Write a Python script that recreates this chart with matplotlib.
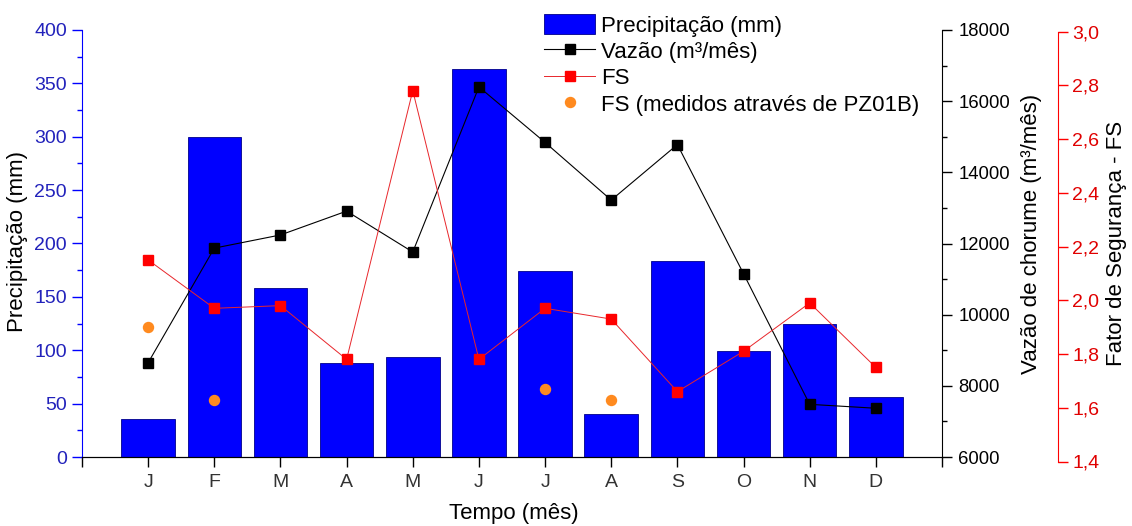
import matplotlib
matplotlib.use('Agg')
import matplotlib.pyplot as plt
import numpy as np

plt.rcParams['font.family'] = ['Liberation Sans', 'DejaVu Sans']

# dados mensais
meses = ['J', 'F', 'M', 'A', 'M', 'J', 'J', 'A', 'S', 'O', 'N', 'D']
precipitacao = [36, 300, 158, 88, 94, 363, 174, 40, 184, 99, 125, 56]
vazao = [8650, 11870, 12240, 12910, 11760, 16400, 14840, 13220, 14780, 11150, 7480, 7370]
fs = [2.15, 1.97, 1.98, 1.78, 2.78, 1.78, 1.97, 1.93, 1.66, 1.81, 1.99, 1.75]
# FS medidos no piezometro PZ01B (J, F, J, A)
fs_pz_mes = [1, 2, 7, 8]
fs_pz = [1.90, 1.63, 1.67, 1.63]

x = np.arange(1, 13)
W, H = 1132, 526

fig = plt.figure(figsize=(W / 100, H / 100), dpi=100)
L, R = 82 / W, 942 / W
B, T = 1 - 457 / H, 1 - 30 / H
ax = fig.add_axes([L, B, R - L, T - B])
ax2 = ax.twinx()
B3, T3 = 1 - 461.5 / H, 1 - 31.5 / H
ax3 = fig.add_axes([L, B3, R - L, T3 - B3])

azul = '#0000FF'
vermelho = '#FF0000'

# barras de precipitacao
barras = ax.bar(x, precipitacao, width=0.81, color=azul, edgecolor='#00008B',
                linewidth=0.6, label='Precipitação (mm)')
ax.set_xlim(0, 13)
ax.set_ylim(0, 400)
ax.set_yticks(np.arange(0, 401, 50))
ax.set_yticks(np.arange(0, 401, 25), minor=True)
ax.set_xticks(np.arange(0, 14))
ax.set_xticklabels([''] + meses + [''])
ax.tick_params(axis='x', direction='out', length=7.5, width=1, pad=5,
               labelsize=14, labelcolor='#333333')
ax.tick_params(axis='y', which='major', direction='out', length=7.2, width=1,
               colors=azul, labelcolor='#2222BB', labelsize=14, pad=3.6)
ax.tick_params(axis='y', which='minor', direction='out', length=3.6, width=1, colors=azul)
ax.spines['left'].set_color(azul)
ax.spines['top'].set_visible(False)
ax.spines['right'].set_visible(False)
ax.set_ylabel('Precipitação (mm)', fontsize=16)
ax.yaxis.set_label_coords(-0.0628, 0.505)
ax.set_xlabel('Tempo (mês)', fontsize=16)
ax.xaxis.set_label_coords(0.502, -0.108)

# vazao de chorume
l_vazao, = ax2.plot(x, vazao, color='black', lw=0.8, marker='s', ms=6.7,
                    mfc='black', mec='black', label='Vazão (m³/mês)')
ax2.set_ylim(6000, 18000)
ax2.set_yticks(np.arange(6000, 18001, 2000))
ax2.set_yticks(np.arange(6000, 18001, 1000), minor=True)
ax2.tick_params(axis='y', which='major', direction='out', length=7.5, width=1,
                labelsize=13.3, pad=4.3)
ax2.tick_params(axis='y', which='minor', direction='out', length=3.8, width=1)
ax2.spines['top'].set_visible(False)
ax2.spines['left'].set_visible(False)
ax2.set_ylabel('Vazão de chorume (m³/mês)', fontsize=16)
ax2.yaxis.set_label_coords(1.092, 0.523)

# fator de seguranca
ax3.patch.set_visible(False)
l_fs, = ax3.plot(x, fs, color='#E8262B', lw=0.7, marker='s', ms=6.7,
                 mfc=vermelho, mec=vermelho, label='FS')
l_pz, = ax3.plot(fs_pz_mes, fs_pz, ls='none', marker='o', ms=7.2,
                 mfc='#FF8A1F', mec='#FF8A1F', label='FS (medidos através de PZ01B)')
ax3.set_xlim(0, 13)
ax3.set_ylim(1.4, 3.0)
ax3.set_yticks(np.arange(1.4, 3.01, 0.2))
ax3.set_yticklabels([f'{v:.1f}'.replace('.', ',') for v in np.arange(1.4, 3.01, 0.2)])
ax3.yaxis.tick_right()
ax3.yaxis.set_label_position('right')
for s in ['top', 'left', 'bottom']:
    ax3.spines[s].set_visible(False)
ax3.spines['right'].set_position(('axes', (1058 - 82) / (942 - 82)))
ax3.spines['right'].set_color(vermelho)
ax3.set_xticks([])
ax3.tick_params(axis='y', direction='out', length=7.2, width=1, colors=vermelho,
                labelcolor='#E00000', labelsize=14, pad=3)
ax3.set_ylabel('Fator de Segurança - FS', fontsize=16)
ax3.yaxis.set_label_coords(1.191, 0.507)

fig.legend(handles=[barras, l_vazao, l_fs, l_pz], loc='upper left',
           bbox_to_anchor=(533 / W, 1 - 3 / H), frameon=False, fontsize=16,
           borderpad=0, labelspacing=0.17, handlelength=2.3, handleheight=1.0,
           handletextpad=0.25)

fig.savefig('out.png', dpi=100)
